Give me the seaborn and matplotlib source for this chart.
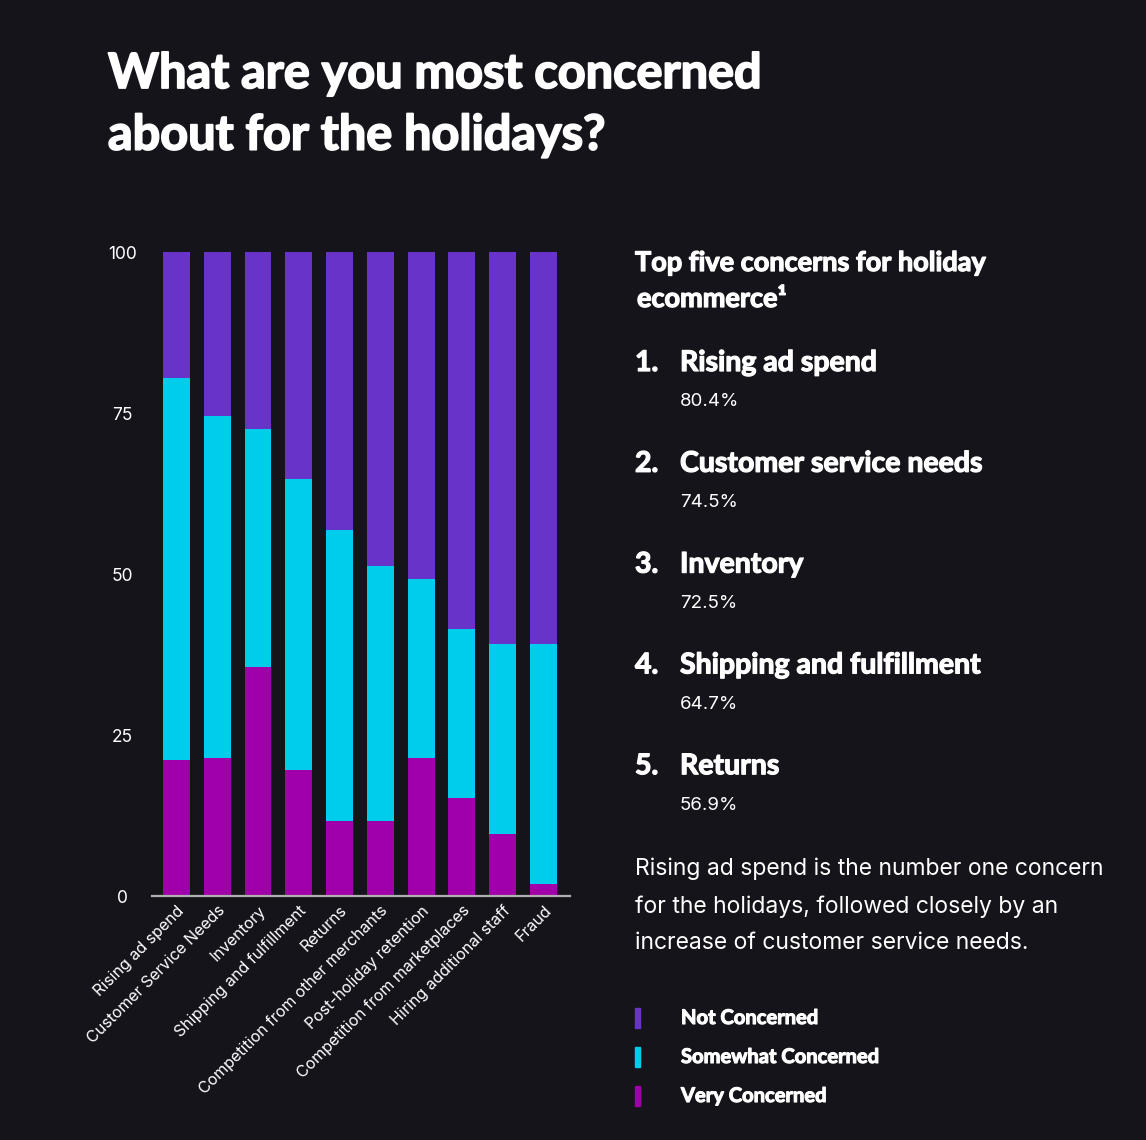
import numpy as np
import pandas as pd
import matplotlib
matplotlib.use("Agg")
import matplotlib.pyplot as plt
import matplotlib.patheffects as pe
import seaborn as sns

# survey answers, percent of respondents
concerns = ["Rising ad spend", "Customer Service Needs", "Inventory",
            "Shipping and fulfillment", "Returns",
            "Competition from other merchants", "Post-holiday retention",
            "Competition from marketplaces", "Hiring additional staff", "Fraud"]
very_concerned = [21.1, 21.5, 35.5, 19.5, 11.6, 11.6, 21.4, 15.3, 9.6, 1.9]
somewhat_concerned = [59.3, 53.0, 37.0, 45.2, 45.3, 39.7, 27.8, 26.1, 29.5, 37.3]
not_concerned = [19.6, 25.5, 27.5, 35.3, 43.1, 48.7, 50.8, 58.6, 60.9, 60.8]
y_ticks = [0, 25, 50, 75, 100]

top_five = ["Rising ad spend", "Customer service needs", "Inventory",
            "Shipping and fulfillment", "Returns"]
top_five_pct = ["80.4%", "74.5%", "72.5%", "64.7%", "56.9%"]
legend_labels = ["Not Concerned", "Somewhat Concerned", "Very Concerned"]

BG = "#16141b"
C_NOT = "#6833c8"
C_SOME = "#00cdeb"
C_VERY = "#a000aa"
HEAD = ['Lato', 'DejaVu Sans']
BODY = ['Inter', 'DejaVu Sans']


def heavy(w):
    # Lato only ships bold here, thicken it a bit to look like the black cut
    return [pe.withStroke(linewidth=w, foreground="white")]


sns.set_style("dark")
plt.rcParams['font.family'] = BODY

df = pd.DataFrame({"Concern": concerns,
                   "very": very_concerned,
                   "some": somewhat_concerned,
                   "not": not_concerned})
df["lvl_some"] = df["very"] + df["some"]
df["lvl_all"] = df["lvl_some"] + df["not"]

fig = plt.figure(figsize=(11.46, 11.40), dpi=100, facecolor=BG)
ax = fig.add_axes([0.1326, 0.2140, 0.3648, 0.5649])
ax.set_facecolor(BG)

for col, c in [("lvl_all", C_NOT), ("lvl_some", C_SOME), ("very", C_VERY)]:
    sns.barplot(data=df, x="Concern", y=col, color=c, saturation=1,
                width=0.66, ax=ax, linewidth=0)

ax.set_xlim(-0.6, 9.65)
ax.set_ylim(0, 100)
ax.set_yticks(y_ticks)
ax.set_xlabel("")
ax.set_ylabel("")
ax.grid(False)
for s in ["top", "right", "left"]:
    ax.spines[s].set_visible(False)
ax.spines["bottom"].set_color("#b0b0b0")
ax.spines["bottom"].set_linewidth(1.6)

ax.tick_params(axis="y", length=0, pad=21, colors="white", labelsize=12.5)
for lab in ax.get_yticklabels():
    lab.set_horizontalalignment("center")
ax.tick_params(axis="x", length=0, pad=5, colors="white", labelsize=11.5)
ax.set_xticks(range(len(concerns)))
ax.set_xticklabels(concerns, rotation=45, ha="right", rotation_mode="anchor")


def fy(px):
    return 1 - px / 1140


# title
fig.text(108 / 1146, fy(51), "What are you most concerned\nabout for the holidays?",
         color="white", fontsize=35, fontweight="bold", family=HEAD,
         va="top", ha="left", linespacing=1.45, path_effects=heavy(1.3))

# right panel
fig.text(635 / 1146, fy(263), "Top five concerns for holiday", color="white",
         fontsize=19.5, fontweight="bold", family=HEAD, va="center",
         path_effects=heavy(0.9))
fig.text(637 / 1146, fy(299), "ecommerce\u00b9", color="white",
         fontsize=19.5, fontweight="bold", family=HEAD, va="center",
         path_effects=heavy(0.9))

for i, (name, pct) in enumerate(zip(top_five, top_five_pct)):
    yc = 363 + i * 100.8
    fig.text(635 / 1146, fy(yc), f"{i + 1}.", color="white", fontsize=20.5,
             fontweight="bold", family=HEAD, va="center", path_effects=heavy(0.9))
    fig.text(680 / 1146, fy(yc), name, color="white", fontsize=20.5,
             fontweight="bold", family=HEAD, va="center", path_effects=heavy(0.9))
    fig.text(680 / 1146, fy(yc + 39), pct, color="white", fontsize=13.5,
             va="center")

fig.text(635 / 1146, fy(858),
         "Rising ad spend is the number one concern\nfor the holidays, followed closely by an\nincrease of customer service needs.",
         color="white", fontsize=16.5, va="top", ha="left", linespacing=1.85)

for i, (lab, c) in enumerate(zip(legend_labels, [C_NOT, C_SOME, C_VERY])):
    yc = 1018 + i * 39
    fig.patches.append(plt.Rectangle((635 / 1146, fy(yc + 10)), 5 / 1146, 20 / 1140,
                                     transform=fig.transFigure, color=c))
    fig.text(681 / 1146, fy(yc), lab, color="white", fontsize=14.5,
             fontweight="bold", family=HEAD, va="center", path_effects=heavy(0.8))

fig.savefig("out.png", dpi=100, facecolor=BG)
